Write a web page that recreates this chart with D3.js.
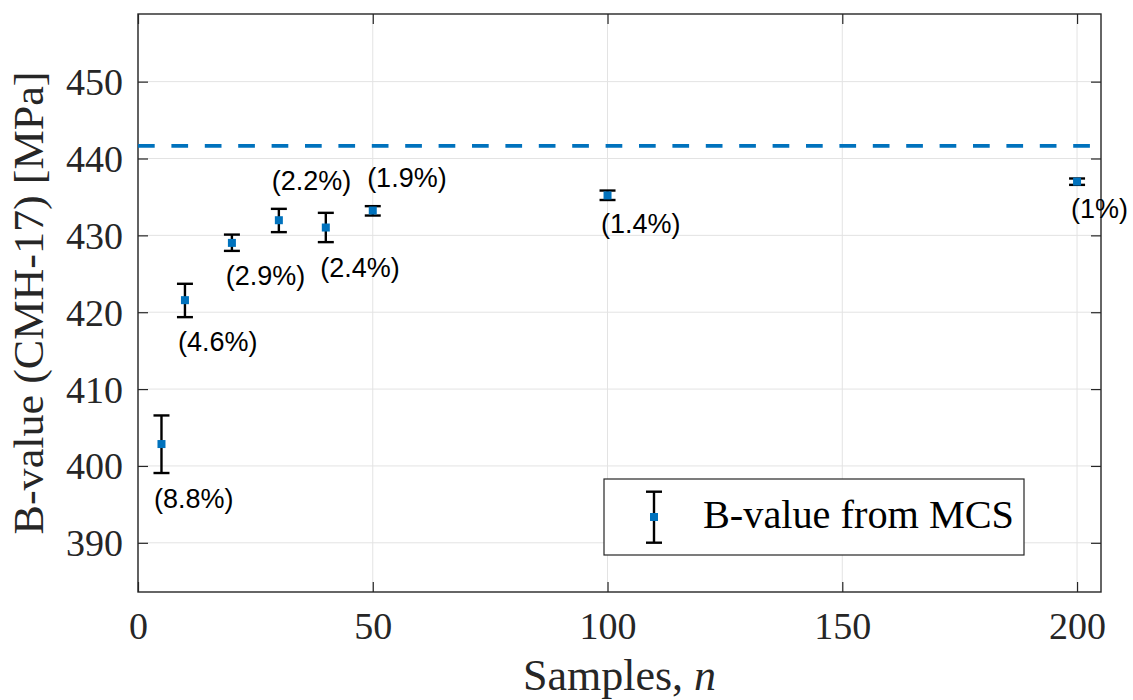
<!DOCTYPE html>
<html>
<head>
<meta charset="utf-8">
<script src="https://cdn.jsdelivr.net/npm/d3@7"></script>
<style>
  html, body { margin: 0; padding: 0; background: #fff; }
  svg { display: block; }
</style>
</head>
<body>
<svg id="chart" width="1133" height="700"></svg>
<script>
// ---- data ----
const nSamples = [5, 10, 20, 30, 40, 50, 100, 200];
const bValue   = [402.85, 421.57, 429.02, 431.97, 431.02, 433.23, 435.2, 437.0];
const errLow   = [399.08, 419.36, 427.98, 430.42, 429.12, 432.58, 434.6, 436.57];
const errHigh  = [406.57, 423.70, 430.10, 433.45, 432.93, 433.80, 435.83, 437.40];
const cvLabels = ["(8.8%)", "(4.6%)", "(2.9%)", "(2.2%)", "(2.4%)", "(1.9%)", "(1.4%)", "(1%)"];
const labelX   = [3.4, 8.5, 18.7, 28.5, 38.8, 48.8, 98.6, 198.7];
const labelY   = [394.5, 414.9, 423.5, 435.9, 424.6, 436.3, 430.3, 432.2];
const referenceB = 441.64;
const xTicks = [0, 50, 100, 150, 200];
const yTicks = [390, 400, 410, 420, 430, 440, 450];
const xDomain = [0, 205.1];
const yDomain = [383.6, 458.8];

// ---- layout ----
const L = 138, R = 1101, T = 14, B = 592;
const blue = "#0072BD", axisCol = "#262626", gridCol = "#e3e3e3";
const serif = "'Liberation Serif', 'Times New Roman', serif";
const sans = "'Liberation Sans', Arial, Helvetica, sans-serif";

const svg = d3.select("#chart");
const x = d3.scaleLinear().domain(xDomain).range([L, R]);
const y = d3.scaleLinear().domain(yDomain).range([B, T]);

// grid
const grid = svg.append("g");
grid.selectAll("line.gx").data(xTicks).join("line")
  .attr("x1", d => x(d)).attr("x2", d => x(d)).attr("y1", T).attr("y2", B)
  .attr("stroke", gridCol).attr("stroke-width", 1);
grid.selectAll("line.gy").data(yTicks).join("line")
  .attr("y1", d => y(d)).attr("y2", d => y(d)).attr("x1", L).attr("x2", R)
  .attr("stroke", gridCol).attr("stroke-width", 1);

// axes (ticks inward on all sides)
const tickLen = 10;
function styleAxis(g) {
  g.selectAll("path.domain").remove();
  g.selectAll(".tick line").attr("stroke", axisCol).attr("stroke-width", 1.2);
}
const xAxisB = svg.append("g").attr("transform", `translate(0,${B})`)
  .call(d3.axisBottom(x).tickValues(xTicks).tickSize(-tickLen).tickPadding(20).tickFormat(d3.format("d")));
styleAxis(xAxisB);
xAxisB.selectAll("text").attr("font-family", serif).attr("font-size", 38).attr("fill", axisCol)
  .attr("dy", null).attr("y", 47);
const xAxisT = svg.append("g").attr("transform", `translate(0,${T})`)
  .call(d3.axisTop(x).tickValues(xTicks).tickSize(-tickLen).tickFormat(""));
styleAxis(xAxisT);
const yAxisL = svg.append("g").attr("transform", `translate(${L},0)`)
  .call(d3.axisLeft(y).tickValues(yTicks).tickSize(-tickLen).tickPadding(15).tickFormat(d3.format("d")));
styleAxis(yAxisL);
yAxisL.selectAll("text").attr("font-family", serif).attr("font-size", 38).attr("fill", axisCol)
  .attr("dy", "0.34em");
const yAxisR = svg.append("g").attr("transform", `translate(${R},0)`)
  .call(d3.axisRight(y).tickValues(yTicks).tickSize(-tickLen).tickFormat(""));
styleAxis(yAxisR);

// box
svg.append("rect").attr("x", L).attr("y", T).attr("width", R - L).attr("height", B - T)
  .attr("fill", "none").attr("stroke", axisCol).attr("stroke-width", 1.4);

// reference dashed line
svg.append("line")
  .attr("x1", x(xDomain[0])).attr("x2", x(xDomain[1]))
  .attr("y1", y(referenceB)).attr("y2", y(referenceB))
  .attr("stroke", blue).attr("stroke-width", 3.6).attr("stroke-dasharray", "16.7,16.7");

// error bars
const pts = nSamples.map((n, i) => ({n, v: bValue[i], lo: errLow[i], hi: errHigh[i], lab: cvLabels[i], lx: labelX[i], ly: labelY[i]}));
const capW = 8;
const eb = svg.append("g").attr("stroke", "#000").attr("stroke-width", 2.4);
eb.selectAll("line.v").data(pts).join("line")
  .attr("x1", d => x(d.n)).attr("x2", d => x(d.n)).attr("y1", d => y(d.lo)).attr("y2", d => y(d.hi));
eb.selectAll("line.lo").data(pts).join("line")
  .attr("x1", d => x(d.n) - capW).attr("x2", d => x(d.n) + capW).attr("y1", d => y(d.lo)).attr("y2", d => y(d.lo));
eb.selectAll("line.hi").data(pts).join("line")
  .attr("x1", d => x(d.n) - capW).attr("x2", d => x(d.n) + capW).attr("y1", d => y(d.hi)).attr("y2", d => y(d.hi));
svg.append("g").selectAll("rect").data(pts).join("rect")
  .attr("x", d => x(d.n) - 4).attr("y", d => y(d.v) - 4).attr("width", 8).attr("height", 8)
  .attr("fill", blue);

// percentage labels
svg.append("g").selectAll("text").data(pts).join("text")
  .attr("x", d => x(d.lx)).attr("y", d => y(d.ly))
  .attr("font-family", sans).attr("font-size", 27).attr("fill", "#000")
  .text(d => d.lab);

// axis titles
svg.append("text")
  .attr("x", (L + R) / 2).attr("y", 690)
  .attr("text-anchor", "middle").attr("font-family", serif).attr("font-size", 44).attr("fill", axisCol)
  .html('Samples, <tspan font-style="italic">n</tspan>');
svg.append("text")
  .attr("transform", `translate(43,${(T + B) / 2}) rotate(-90)`)
  .attr("text-anchor", "middle").attr("font-family", serif).attr("font-size", 42).attr("fill", axisCol)
  .attr("textLength", 463).attr("lengthAdjust", "spacingAndGlyphs")
  .text("B-value (CMH-17) [MPa]");

// legend
const lg = svg.append("g");
lg.append("rect").attr("x", 604).attr("y", 479).attr("width", 420).attr("height", 76)
  .attr("fill", "#fff").attr("stroke", axisCol).attr("stroke-width", 1.2);
const lx = 654, ly0 = 491.7, ly1 = 542.7, lym = 517;
const lgb = lg.append("g").attr("stroke", "#000").attr("stroke-width", 2.4);
lgb.append("line").attr("x1", lx).attr("x2", lx).attr("y1", ly0).attr("y2", ly1);
lgb.append("line").attr("x1", lx - capW).attr("x2", lx + capW).attr("y1", ly0).attr("y2", ly0);
lgb.append("line").attr("x1", lx - capW).attr("x2", lx + capW).attr("y1", ly1).attr("y2", ly1);
lg.append("rect").attr("x", lx - 4).attr("y", lym - 4).attr("width", 8).attr("height", 8).attr("fill", blue);
lg.append("text").attr("x", 703).attr("y", 528)
  .attr("font-family", serif).attr("font-size", 40).attr("fill", "#000")
  .attr("textLength", 311).attr("lengthAdjust", "spacingAndGlyphs")
  .text("B-value from MCS");
</script>
</body>
</html>
